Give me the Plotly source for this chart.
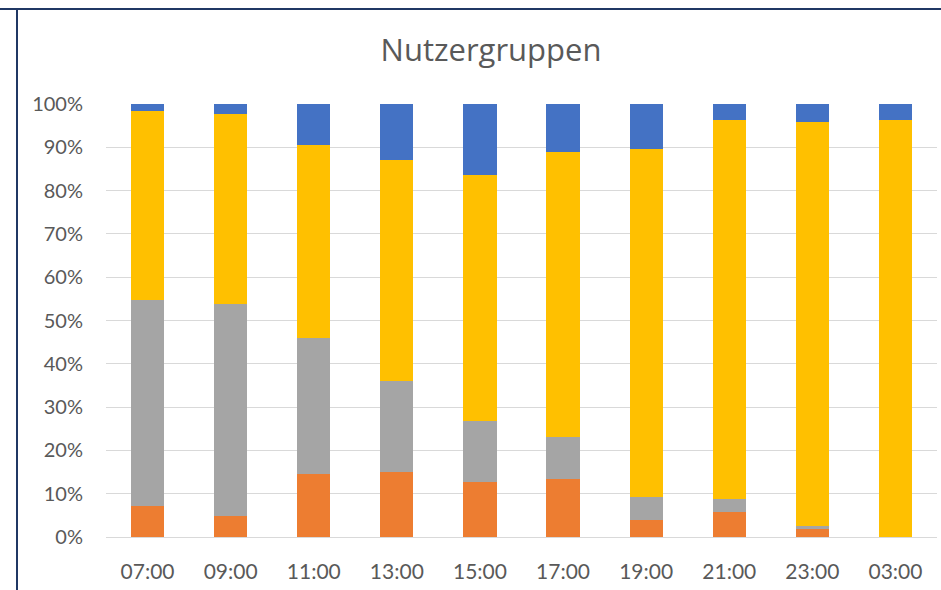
import plotly.graph_objects as go

categories = ["07:00", "09:00", "11:00", "13:00", "15:00", "17:00", "19:00", "21:00", "23:00", "03:00"]
orange_vals = [7.1, 4.9, 14.6, 15.0, 12.8, 13.3, 4.0, 5.8, 1.9, 0.0]
gray_vals = [47.6, 49.0, 31.4, 21.0, 14.0, 9.9, 5.2, 2.9, 0.7, 0.0]
yellow_vals = [43.8, 43.7, 44.6, 51.0, 56.8, 65.7, 80.5, 87.5, 93.2, 96.2]
blue_vals = [1.5, 2.4, 9.4, 13.0, 16.4, 11.1, 10.3, 3.8, 4.2, 3.8]
y_ticks = list(range(0, 101, 10))

W, H = 941, 590
ML, MR, MT, MB = 106, 4, 104, 53

FONT = "Lato, 'Open Sans', sans-serif"
TITLE_FONT = "'Open Sans', Lato, sans-serif"

fig = go.Figure()
for name, vals, col in [
    ("Gruppe A", orange_vals, "#ED7D31"),
    ("Gruppe B", gray_vals, "#A5A5A5"),
    ("Gruppe C", yellow_vals, "#FFC000"),
    ("Gruppe D", blue_vals, "#4472C4"),
]:
    fig.add_trace(go.Bar(x=categories, y=vals, name=name, marker_color=col,
                         marker_line_width=0))

def px_x(x):
    return (x - ML) / (W - ML - MR)

def px_y(y):
    return (H - MB - y) / (H - MT - MB)

border = "#203864"
fig.add_shape(type="line", xref="paper", yref="paper",
              x0=px_x(0), x1=px_x(W), y0=px_y(9), y1=px_y(9),
              line=dict(color=border, width=2))
fig.add_shape(type="line", xref="paper", yref="paper",
              x0=px_x(17), x1=px_x(17), y0=px_y(9), y1=px_y(H),
              line=dict(color=border, width=2))

fig.update_layout(
    width=W, height=H,
    margin=dict(l=ML, r=MR, t=MT, b=MB),
    barmode="stack", bargap=0.6,
    showlegend=False,
    plot_bgcolor="white", paper_bgcolor="white",
    title=dict(text="Nutzergruppen", x=491 / W, xref="container", xanchor="center",
               y=1 - 50 / H, yref="container", yanchor="middle",
               font=dict(family=TITLE_FONT, size=31, color="#595959")),
    font=dict(family=FONT, color="#595959"),
)
fig.update_xaxes(showgrid=False, showline=False, zeroline=False,
                 ticks="outside", ticklen=16, tickcolor="rgba(0,0,0,0)",
                 tickfont=dict(size=21, color="#595959"))
fig.update_yaxes(range=[0, 100], tickvals=y_ticks,
                 ticktext=[f"{v}%" for v in y_ticks],
                 showgrid=True, gridcolor="#D9D9D9", gridwidth=1,
                 zeroline=True, zerolinecolor="#D9D9D9", zerolinewidth=1,
                 showline=False,
                 ticks="outside", ticklen=18, tickcolor="rgba(0,0,0,0)",
                 tickfont=dict(size=20, color="#595959"))

fig.write_html("out.html", config={"displayModeBar": False},
               post_script="document.body.style.margin='0';")
